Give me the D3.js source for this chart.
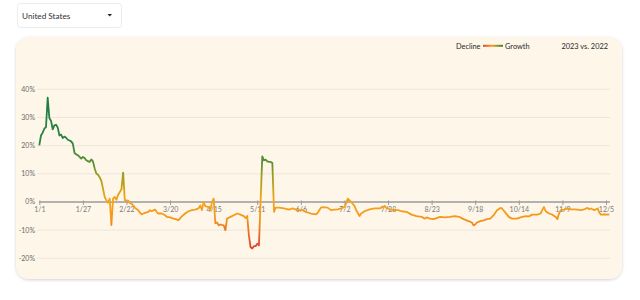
<!DOCTYPE html>
<html>
<head>
<meta charset="utf-8">
<script src="https://cdn.jsdelivr.net/npm/d3@7"></script>
<style>
  html, body { margin: 0; padding: 0; background: #fff; }
  svg { display: block; font-family: Lato, "Open Sans", sans-serif; }
</style>
</head>
<body>
<svg id="chart" width="640" height="300"></svg>
<script>
// day number in 2023 (0 = Jan 1) and the yoy change in %
const dayNums = [0,1,2,3,4,5,6,7,8,9,10,11,12,13,14,15,16,17,18,19,20,21,22,23,24,25,26,27,28,29,30,31,32,33,34,35,36,37,38,39,40,41,42,43,44,45,46,47,48,49,50,51,52,53,54,55,56,57,58,59,60,61,62,63,64,65,66,67,68,69,70,71,73,75,76,78,80,82,83,85,87,89,91,93,95,96,97,98,99,101,102,103,104,105,106,107,108,110,111,112,114,116,118,120,122,123,124,125,126,127,128,129,130,131,133,134,135,136,137,138,139,140,141,143,146,149,151,154,157,159,162,165,166,168,169,172,174,176,178,180,182,183,184,185,186,188,189,191,192,194,197,200,203,205,206,207,209,211,214,216,219,222,225,228,230,231,233,235,237,239,242,245,248,251,253,256,258,259,260,261,263,265,267,269,271,273,275,276,278,280,282,285,287,290,292,294,297,299,300,301,302,304,306,308,309,310,311,313,315,317,319,321,323,325,327,328,329,331,333,334,335,337,339,340];
const changes = [20.1,23.6,24.6,26.0,26.6,37.0,29.8,28.8,25.8,27.2,27.4,26.4,23.6,23.9,22.7,23.2,22.8,22.1,21.8,21.5,20.7,17.4,16.9,16.6,16.0,15.4,16.0,15.6,14.8,14.5,14.2,15.1,14.4,12.0,10.1,9.7,8.8,7.5,4.7,1.8,0.6,-0.3,1.2,-8.2,1.2,1.8,0.8,2.5,3.5,4.5,10.4,0.6,0.6,0.5,-0.4,-0.6,-1.2,-2.0,-2.5,-2.9,-3.8,-4.4,-4.1,-3.9,-3.7,-3.5,-2.9,-3.3,-3.0,-2.7,-3.5,-4.1,-4.1,-4.7,-5.3,-5.5,-5.9,-6.2,-6.5,-5.1,-4.1,-3.3,-2.9,-2.7,-2.3,-1.2,-2.9,0,-1.5,-1.8,-2.9,0,1.2,-7.5,-7.3,-8.3,-8.0,-8.3,-10.0,-5.9,-5.3,-4.7,-4.1,-4.5,-5.0,-5.7,-5.0,-11.8,-16.0,-16.5,-15.7,-15.7,-14.8,-15.4,16.2,14.8,15.0,14.4,14.2,14.2,13.8,-3.5,-2.0,-2.0,-2.3,-2.7,-2.3,-2.9,-2.9,-3.5,-4.1,-4.4,-3.9,-2.0,-1.8,-2.0,-2.9,-2.7,-2.6,-2.3,-1.8,-0.6,1.2,0.6,0,-1.4,-2.9,-5.0,-4.1,-3.3,-2.6,-2.3,-2.3,-1.8,-1.4,-2.1,-2.6,-2.9,-2.9,-3.3,-3.5,-4.5,-5.0,-5.3,-5.9,-5.5,-5.9,-6.1,-5.7,-5.3,-5.5,-5.3,-5.0,-5.4,-6.1,-6.8,-7.3,-8.3,-8.0,-7.3,-6.8,-6.5,-6.1,-5.9,-4.7,-2.9,-2.1,-2.3,-3.8,-5.3,-5.9,-5.9,-5.5,-5.0,-5.1,-4.5,-4.5,-4.1,-2.9,-1.8,-3.3,-4.1,-4.5,-5.3,-6.1,-4.1,-2.9,-2.7,-2.3,-2.6,-2.6,-2.7,-2.9,-2.6,-2.1,-2.6,-2.3,-2.9,-2.3,-3.8,-4.5,-4.4,-4.5,-4.4];

const tickLabels = ["1/1","1/27","2/22","3/20","4/15","5/11","6/6","7/2","7/28","8/23","9/18","10/14","11/9","12/5"];
const yTicks = [-20, -10, 0, 10, 20, 30, 40];
const country = "United States";
const compareLabel = "2023 vs. 2022";

// colour by value: decline (red) -> flat (orange) -> growth (green)
const colorStops = [
  { v: 40, c: "#1d7a46" },
  { v: 22, c: "#2b8441" },
  { v: 14, c: "#5b8f30" },
  { v: 9,  c: "#a29d20" },
  { v: 3,  c: "#e3a312" },
  { v: 0,  c: "#f6a31a" },
  { v: -6, c: "#f5961a" },
  { v: -11, c: "#ec6d25" },
  { v: -16, c: "#e1442d" },
  { v: -20, c: "#dc3a2e" }
];

const year0 = new Date(2023, 0, 1);
const data = dayNums.map((d, i) => ({ date: d3.timeDay.offset(year0, d), value: changes[i] }));
const parseTick = d3.timeParse("%Y/%m/%d");
const tickDates = tickLabels.map(t => parseTick("2023/" + t));

const svg = d3.select("#chart");

const defs = svg.append("defs");
const shadow = defs.append("filter").attr("id", "cardShadow")
  .attr("x", "-5%").attr("y", "-5%").attr("width", "110%").attr("height", "115%");
shadow.append("feDropShadow").attr("dx", 0).attr("dy", 1).attr("stdDeviation", 1.5)
  .attr("flood-color", "#000").attr("flood-opacity", 0.18);

// dropdown
const dd = svg.append("g");
dd.append("rect").attr("x", 17.5).attr("y", 3.5).attr("width", 104).attr("height", 24)
  .attr("rx", 3).attr("fill", "#fff").attr("stroke", "#ececec");
dd.append("text").attr("x", 22).attr("y", 18.5).attr("font-size", 8.2)
  .attr("fill", "#333").text(country);
dd.append("path").attr("d", "M107.5,14 L112,14 L109.75,16.6 Z").attr("fill", "#222");

// card
svg.append("rect").attr("x", 16).attr("y", 37).attr("width", 606).attr("height", 242)
  .attr("rx", 13).attr("fill", "#fdf6e9").attr("filter", "url(#cardShadow)");

const x = d3.scaleTime().domain([tickDates[0], tickDates[tickDates.length - 1]]).range([39.3, 606]);
const y = d3.scaleLinear().domain([-20, 40]).range([258.3, 89.3]);
const xEnd = 610;

// gridlines
svg.append("g").selectAll("line").data(yTicks.filter(t => t !== 0)).join("line")
  .attr("x1", 37).attr("x2", xEnd)
  .attr("y1", d => y(d)).attr("y2", d => y(d))
  .attr("stroke", "#efe7d9").attr("stroke-width", 1);

// y labels
svg.append("g").selectAll("text").data(yTicks).join("text")
  .attr("x", 35).attr("y", d => y(d)).attr("dy", "0.35em")
  .attr("text-anchor", "end").attr("font-size", 7).attr("fill", "#6b6b6b")
  .text(d => d + "%");

// x axis on the zero line
const xAxis = svg.append("g").attr("transform", `translate(0,${y(0)})`)
  .call(d3.axisBottom(x).tickValues(tickDates).tickSize(3).tickPadding(2)
    .tickFormat((d, i) => tickLabels[i]));
xAxis.select(".domain").attr("d", `M${x.range()[0]},0H${xEnd}`)
  .attr("stroke", "#9a9a9a").attr("stroke-width", 1.5);
xAxis.selectAll(".tick line").attr("stroke", "#9a9a9a").attr("y1", -1.5);
xAxis.selectAll(".tick text").attr("font-size", 7).attr("fill", "#7a7a7a")
  .attr("font-family", "Lato, sans-serif");

// line gradient in value space
const grad = defs.append("linearGradient").attr("id", "lineGrad")
  .attr("gradientUnits", "userSpaceOnUse")
  .attr("x1", 0).attr("x2", 0).attr("y1", y(40)).attr("y2", y(-20));
grad.selectAll("stop").data(colorStops).join("stop")
  .attr("offset", d => (y(d.v) - y(40)) / (y(-20) - y(40)))
  .attr("stop-color", d => d.c);

const line = d3.line().x(d => x(d.date)).y(d => y(d.value));
svg.append("path").datum(data)
  .attr("d", line).attr("fill", "none")
  .attr("stroke", "url(#lineGrad)").attr("stroke-width", 1.8)
  .attr("stroke-linejoin", "round");

// legend
const lg = defs.append("linearGradient").attr("id", "legendGrad");
lg.append("stop").attr("offset", 0).attr("stop-color", "#e1442d");
lg.append("stop").attr("offset", 0.45).attr("stop-color", "#f6a31a");
lg.append("stop").attr("offset", 1).attr("stop-color", "#2b8441");
const legend = svg.append("g").attr("font-size", 7.4).attr("fill", "#2a2a2a");
legend.append("text").attr("x", 480.5).attr("y", 48.5).attr("text-anchor", "end").text("Decline");
legend.append("rect").attr("x", 483).attr("y", 44.8).attr("width", 20).attr("height", 2)
  .attr("fill", "url(#legendGrad)");
legend.append("text").attr("x", 505).attr("y", 48.5).text("Growth");
legend.append("text").attr("x", 608).attr("y", 48.5).attr("text-anchor", "end").text(compareLabel);
</script>
</body>
</html>
